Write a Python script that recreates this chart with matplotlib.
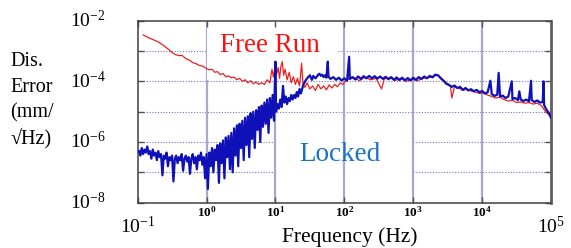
import numpy as np
import matplotlib
matplotlib.use("Agg")
import matplotlib.pyplot as plt
from matplotlib.patches import Rectangle
import matplotlib.transforms as mtransforms

plt.rcParams['font.family'] = ['Liberation Serif', 'DejaVu Serif']
plt.rcParams['mathtext.fontset'] = 'custom'
plt.rcParams['mathtext.rm'] = 'Liberation Serif'
plt.rcParams['mathtext.it'] = 'Liberation Serif'
plt.rcParams['mathtext.bf'] = 'Liberation Serif:bold'

# Free run spectrum: log10(frequency / Hz), log10(error / mm/sqrt(Hz))
free_logf = [-0.92, -0.85, -0.78, -0.70, -0.62, -0.55, -0.50, -0.45, -0.40, -0.35,
             -0.30, -0.25, -0.20, -0.15, -0.10, -0.05, 0.00, 0.04, 0.08, 0.12,
             0.16, 0.20, 0.24, 0.28, 0.32, 0.36, 0.40, 0.44, 0.48, 0.52,
             0.56, 0.60, 0.64, 0.68, 0.72, 0.76, 0.80, 0.84, 0.88, 0.92,
             0.95, 0.97, 1.00, 1.02, 1.04, 1.06, 1.08, 1.10, 1.12, 1.14,
             1.17, 1.20, 1.23, 1.26, 1.29, 1.32, 1.35, 1.38, 1.40, 1.43,
             1.46, 1.50, 1.54, 1.58, 1.62, 1.66, 1.70, 1.74, 1.78, 1.82,
             1.86, 1.90, 1.94, 1.98, 2.02, 2.06, 2.14, 2.22, 2.30, 2.38,
             2.46, 2.54, 2.58, 2.66, 2.74, 2.82, 2.90, 2.98, 3.06, 3.14,
             3.22, 3.30, 3.36, 3.42, 3.48, 3.54, 3.56, 3.60, 3.66, 3.72,
             3.78, 3.84, 3.90, 3.96, 4.02, 4.08, 4.14, 4.20, 4.26, 4.32,
             4.38, 4.44, 4.50, 4.56, 4.62, 4.68, 4.74, 4.80, 4.86, 4.92,
             4.96, 5.00]
free_loge = [-2.47, -2.55, -2.62, -2.70, -2.82, -2.95, -3.05, -3.12, -3.15, -3.15,
             -3.25, -3.30, -3.38, -3.42, -3.48, -3.50, -3.58, -3.62, -3.60, -3.70,
             -3.68, -3.78, -3.74, -3.85, -3.82, -3.88, -3.86, -3.95, -3.90, -4.00,
             -3.95, -4.05, -3.98, -4.08, -4.02, -4.10, -4.05, -4.10, -3.95, -4.05,
             -3.60, -3.85, -3.45, -3.75, -3.55, -3.90, -3.50, -3.35, -3.80, -3.60,
             -3.95, -3.70, -4.05, -3.85, -4.10, -3.90, -4.15, -3.40, -4.10, -4.20,
             -4.05, -4.25, -4.15, -4.30, -4.10, -4.25, -4.15, -4.28, -4.12, -4.22,
             -4.10, -4.18, -4.05, -4.10, -3.98, -3.92, -3.88, -3.98, -3.86, -3.95,
             -3.90, -4.25, -3.92, -3.88, -3.97, -3.90, -4.00, -3.93, -3.98, -3.90,
             -3.88, -3.82, -3.80, -3.92, -4.05, -4.15, -4.55, -4.18, -4.22, -4.30,
             -4.25, -4.32, -4.35, -4.40, -4.38, -4.45, -4.50, -4.55, -4.52, -4.60,
             -4.65, -4.62, -4.70, -4.68, -4.72, -4.70, -4.75, -4.72, -4.80, -5.00,
             -5.08, -5.18]

# Locked spectrum
lock_logf = [-0.98, -0.96, -0.94, -0.92, -0.90, -0.88, -0.86, -0.84, -0.82, -0.80,
             -0.78, -0.76, -0.74, -0.72, -0.70, -0.68, -0.66, -0.64, -0.62, -0.60,
             -0.58, -0.56, -0.54, -0.52, -0.50, -0.48, -0.46, -0.44, -0.42, -0.40,
             -0.38, -0.36, -0.34, -0.32, -0.30, -0.28, -0.26, -0.24, -0.22, -0.20,
             -0.18, -0.16, -0.14, -0.12, -0.10, -0.08, -0.06, -0.04, -0.02, 0.00,
             0.02, 0.04, 0.06, 0.08, 0.10, 0.12, 0.14, 0.16, 0.18, 0.20,
             0.22, 0.24, 0.26, 0.28, 0.30, 0.32, 0.34, 0.36, 0.38, 0.40,
             0.42, 0.44, 0.46, 0.48, 0.50, 0.52, 0.54, 0.56, 0.58, 0.60,
             0.62, 0.64, 0.66, 0.68, 0.70, 0.72, 0.74, 0.76, 0.78, 0.80,
             0.82, 0.84, 0.86, 0.88, 0.90, 0.92, 0.94, 0.96, 0.98, 1.00,
             1.01, 1.03, 1.05, 1.07, 1.09, 1.11, 1.13, 1.15, 1.17, 1.19,
             1.21, 1.23, 1.25, 1.27, 1.29, 1.31, 1.33, 1.35, 1.37, 1.40,
             1.43, 1.46, 1.50, 1.53, 1.55, 1.58, 1.60, 1.62, 1.64, 1.66,
             1.68, 1.70, 1.72, 1.74, 1.76, 1.77, 1.80, 1.84, 1.88, 1.92,
             1.96, 2.00, 2.04, 2.07, 2.08, 2.12, 2.16, 2.20, 2.24, 2.28,
             2.32, 2.36, 2.40, 2.44, 2.48, 2.52, 2.56, 2.60, 2.64, 2.68,
             2.72, 2.76, 2.80, 2.84, 2.88, 2.92, 2.96, 3.00, 3.04, 3.08,
             3.12, 3.16, 3.20, 3.24, 3.28, 3.32, 3.36, 3.40, 3.44, 3.48,
             3.52, 3.56, 3.60, 3.64, 3.68, 3.72, 3.76, 3.80, 3.84, 3.88,
             3.92, 3.96, 4.00, 4.04, 4.08, 4.12, 4.14, 4.18, 4.22, 4.24,
             4.26, 4.30, 4.34, 4.38, 4.43, 4.44, 4.48, 4.52, 4.54, 4.56,
             4.60, 4.64, 4.68, 4.71, 4.72, 4.76, 4.80, 4.84, 4.88, 4.89,
             4.90, 4.93, 4.96, 4.98, 5.00]
lock_loge = [-6.30, -6.45, -6.20, -6.40, -6.25, -6.35, -6.15, -6.40, -6.30, -6.55,
             -6.25, -6.45, -6.35, -6.60, -6.30, -6.50, -6.40, -7.10, -6.45, -6.55,
             -6.35, -6.80, -6.50, -6.60, -6.45, -7.30, -6.55, -6.45, -6.70, -6.50,
             -6.60, -6.40, -6.95, -6.55, -6.45, -6.65, -6.50, -7.05, -6.55, -6.40,
             -6.70, -6.50, -6.90, -6.45, -6.60, -6.35, -6.75, -6.50, -7.20, -6.40,
             -7.55, -6.35, -6.80, -6.20, -7.00, -6.25, -6.60, -6.10, -7.35, -6.05,
             -6.70, -5.95, -7.20, -5.85, -6.50, -5.80, -6.90, -5.70, -7.00, -5.55,
             -6.45, -5.45, -6.80, -5.40, -6.20, -5.30, -6.60, -5.20, -6.10, -5.15,
             -6.50, -5.05, -5.90, -5.00, -6.20, -4.95, -5.60, -4.85, -6.00, -4.80,
             -5.50, -4.70, -5.40, -4.60, -5.70, -4.55, -5.20, -4.45, -5.30, -3.35,
             -5.00, -4.75, -4.90, -4.60, -4.85, -4.15, -4.70, -4.50, -4.75, -4.55,
             -4.65, -4.45, -4.60, -4.45, -4.55, -4.35, -4.50, -4.25, -4.40, -4.15,
             -4.00, -3.90, -3.80, -3.95, -3.82, -3.90, -3.85, -3.78, -3.75, -3.82,
             -3.78, -3.86, -3.80, -3.88, -3.35, -3.85, -3.92, -3.86, -3.95, -3.88,
             -3.97, -3.90, -3.98, -3.19, -3.92, -3.86, -3.94, -3.84, -3.92, -3.83,
             -3.90, -3.82, -3.90, -3.83, -3.91, -3.84, -3.92, -3.85, -3.93, -3.86,
             -3.95, -3.87, -3.96, -3.88, -3.97, -3.89, -3.97, -3.88, -3.95, -3.86,
             -3.92, -3.84, -3.90, -3.82, -3.87, -3.78, -3.80, -3.90, -3.98, -4.08,
             -4.12, -4.18, -4.14, -4.22, -4.18, -4.28, -4.22, -4.30, -4.26, -4.33,
             -4.28, -4.36, -4.32, -4.40, -4.36, -3.98, -4.42, -4.48, -4.44, -3.72,
             -4.50, -4.47, -4.55, -4.50, -4.00, -4.58, -4.55, -4.62, -4.33, -4.60,
             -4.65, -4.60, -4.66, -3.98, -4.62, -4.68, -4.63, -4.70, -4.68, -4.00,
             -4.78, -4.92, -5.02, -5.10, -5.20]

decades = [1e-8, 1e-7, 1e-6, 1e-5, 1e-4, 1e-3, 1e-2]
freq_decades = [1e-1, 1e0, 1e1, 1e2, 1e3, 1e4, 1e5]
y_labels = [(1e-2, r'$10^{-2}$'), (1e-4, r'$10^{-4}$'), (1e-6, r'$10^{-6}$'), (1e-8, r'$10^{-8}$')]
x_inner_labels = [(1e0, r'$\mathbf{10^{0}}$'), (1e1, r'$\mathbf{10^{1}}$'), (1e2, r'$\mathbf{10^{2}}$'),
                  (1e3, r'$\mathbf{10^{3}}$'), (1e4, r'$\mathbf{10^{4}}$')]

fig = plt.figure(figsize=(5.71, 2.48), dpi=100)
ax = fig.add_axes([0.241, 0.183, 0.724, 0.7335])
ax.set_xscale('log')
ax.set_yscale('log')
ax.set_xlim(1e-1, 1e5)
ax.set_ylim(1e-8, 1e-2)

# grid: dotted horizontal, solid vertical
for d in decades[1:-1]:
    ax.axhline(d, color='#7070d0', lw=0.8, ls=(0, (1, 1.5)), zorder=0.5)
for f in freq_decades[1:-1]:
    ax.axvline(f, color='#a8a8cc', lw=1.6, zorder=0.9)

# white masks behind the labels
ax.add_patch(Rectangle((0.167, 0.675), 0.315, 0.33, transform=ax.transAxes,
                       facecolor='white', edgecolor='none', zorder=1))
ax.add_patch(Rectangle((0.335, 0.125), 0.33, 0.22, transform=ax.transAxes,
                       facecolor='white', edgecolor='none', zorder=0.7))

ax.plot(10 ** np.array(free_logf), 10 ** np.array(free_loge), color='#e82020', lw=0.9, zorder=2)
ax.plot(10 ** np.array(lock_logf), 10 ** np.array(lock_loge), color='#1010b8', lw=1.6, zorder=3)

ax.text(0.32, 0.865, 'Free Run', transform=ax.transAxes, color='#ff1010',
        fontsize=19.5, ha='center', va='center', zorder=4)
ax.text(0.49, 0.265, 'Locked', transform=ax.transAxes, color='#1a72c8',
        fontsize=19.5, ha='center', va='center', zorder=4)

ax.minorticks_off()
ax.set_xticks(freq_decades)
ax.set_yticks(decades)
ax.tick_params(which='both', direction='in', length=4, width=1, color='#505050',
               top=True, right=True, labelleft=False, labelbottom=False)
for side in ['left', 'bottom', 'top']:
    ax.spines[side].set_color('#404040')
    ax.spines[side].set_linewidth(1.1)
ax.spines['right'].set_color('#606060')
ax.spines['right'].set_linewidth(2)

ytrans = mtransforms.blended_transform_factory(fig.transFigure, ax.transData)
for val, lab in y_labels:
    fig.text(0.185, val, lab, transform=ytrans, fontsize=14, ha='right', va='center')

xtrans = mtransforms.blended_transform_factory(ax.transData, fig.transFigure)
for val, lab in x_inner_labels:
    fig.text(val, 0.145, lab, transform=xtrans, fontsize=9.5, ha='center', va='center')
fig.text(1e-1, 0.085, r'$10^{-1}$', transform=xtrans, fontsize=14, ha='center', va='center')
fig.text(1e5, 0.085, r'$10^{5}$', transform=xtrans, fontsize=14, ha='center', va='center')

fig.text(0.613, 0.005, 'Frequency (Hz)', fontsize=15.5, ha='center', va='bottom')
fig.text(0.018, 0.593, 'Dis.\nError\n(mm/\n\u221aHz)', fontsize=14.5, ha='left', va='center',
         linespacing=1.45)

fig.savefig('out.png', dpi=100)
